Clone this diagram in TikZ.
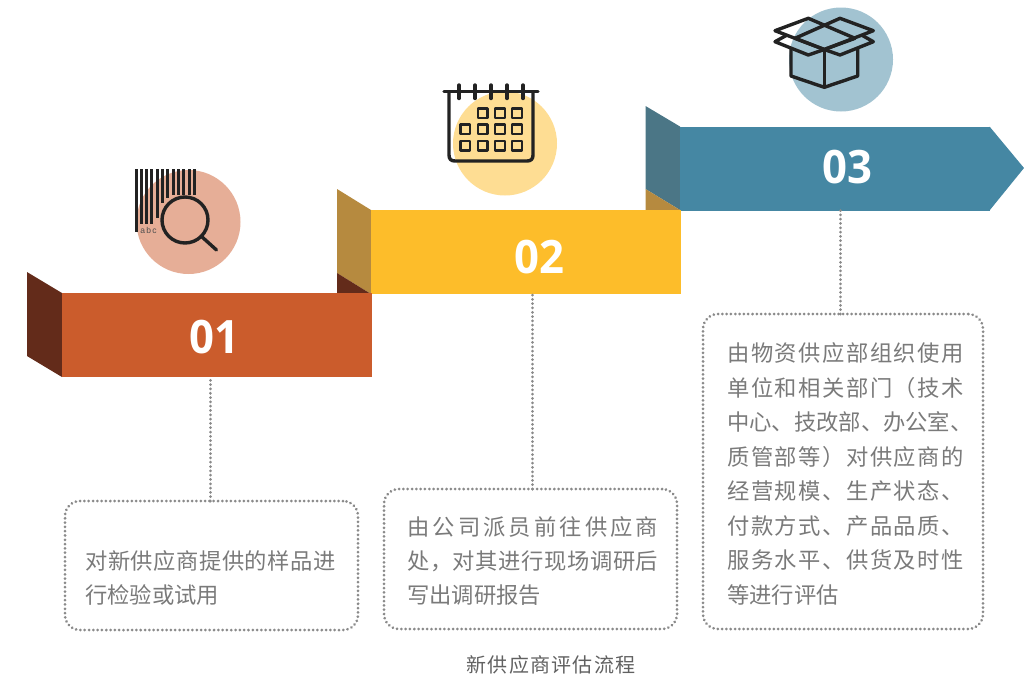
\documentclass[tikz,border=0pt]{standalone}
\usepackage{fontspec}
\newfontfamily\cjkA{Noto Sans CJK SC}
\newfontfamily\cjkD[LetterSpace=6]{Noto Sans CJK SC}
\newfontfamily\numfont[FakeStretch=0.95]{Open Sans}
\newfontfamily\tinyfont[LetterSpace=15]{Liberation Sans}
\definecolor{orangeB}{HTML}{CB5C2C}
\definecolor{orangeS}{HTML}{632B1A}
\definecolor{goldB}{HTML}{FDBD2A}
\definecolor{goldS}{HTML}{B68A3F}
\definecolor{blueB}{HTML}{4587A3}
\definecolor{blueS}{HTML}{4B7686}
\definecolor{circA}{HTML}{E6AE97}
\definecolor{circB}{HTML}{FEDD93}
\definecolor{circC}{HTML}{A2C3D1}
\definecolor{dotgray}{HTML}{8A8A8A}
\definecolor{txtgray}{HTML}{7A7A7A}
\definecolor{icon}{HTML}{222222}
\def\jloop#1#2{#1\ifx\relax#2\expandafter\jstop\else\hfil\expandafter\jloop\fi#2}
\def\jstop#1{}
\newcommand\jline[2]{\hbox to #1{\jloop#2\relax}}
\tikzset{
  band/.style={rectangle,draw=none,inner sep=0pt,outer sep=0pt,minimum width=#1,minimum height=84pt,anchor=north west},
  num/.style={text=white,font=\numfont\bfseries\fontsize{46}{46}\selectfont,inner sep=0pt,anchor=center},
  dotline/.style={draw=dotgray,line width=3pt,line cap=round,dash pattern=on 0.01pt off 4.3pt},
  tbox/.style={rectangle,rounded corners=15pt,dotline,inner sep=0pt,outer sep=0pt,anchor=north west},
  desc/.style={text=txtgray,align=left,inner sep=0pt,anchor=west},
  iconline/.style={draw=icon,line width=3.4pt,line join=round,line cap=round},
  iconthin/.style={draw=icon,line width=2.2pt,line join=round},
  bar/.style={draw=icon,line width=3pt},
  blob/.style={circle,draw=none,minimum size=104pt,inner sep=0pt,outer sep=0pt}
}
\begin{document}
\begin{tikzpicture}[x=1pt,y=-1pt]
\useasboundingbox (0,0) rectangle (1024,680);
% circles
\node[blob,fill=circA] (c1) at (188.5,222) {};
\node[blob,fill=circB] (c2) at (505,143.5) {};
\node[blob,fill=circC] (c3) at (841,59.5) {};
% band 3
\fill[blueS] (645.5,106) -- (680,126.5) -- (680,210) -- (645.5,189) -- cycle;
\fill[goldS] (645.5,189) -- (680,210) -- (645.5,210) -- cycle;
\node[band=310pt,fill=blueB] (band3) at (680,126.5) {};
\fill[blueB] (989.5,126.5) -- (1024,168) -- (989.5,210.5) -- cycle;
% band 2
\fill[goldS] (337,189) -- (371,210) -- (371,294) -- (337,273) -- cycle;
\fill[orangeS] (337,273) -- (371,294) -- (337,294) -- cycle;
\node[band=310pt,fill=goldB] (band2) at (371,210) {};
% band 1
\fill[orangeS] (27,272) -- (62,293) -- (62,377) -- (27,356) -- cycle;
\node[band=310pt,fill=orangeB] (band1) at (62,293) {};
% numbers
\node[num] (n1) at (214,337) {01};
\node[num] (n2) at (539.5,257) {02};
\node[num] (n3) at (847,167) {03};
% boxes
\node[tbox,minimum width=293pt,minimum height=129pt] (box1) at (65,501) {};
\node[tbox,minimum width=293pt,minimum height=140pt] (box2) at (384,489) {};
\node[tbox,minimum width=280pt,minimum height=315pt] (box3) at (703,314) {};
% connectors
\draw[dotline] ([xshift=-1.5pt]box1.north) -- ([xshift=-1.5pt]box1.north |- band1.south);
\draw[dotline] ([xshift=1.5pt]box2.north) -- ([xshift=1.5pt]box2.north |- band2.south);
\draw[dotline] ([xshift=-3pt]box3.north) -- ([xshift=-3pt]box3.north |- band3.south);
% texts
\node[desc,font=\cjkA\fontsize{22.3}{34}\selectfont] (t1) at (85,578) {\jline{250.5pt}{对新供应商提供的样品进}\\行检验或试用};
\node[desc,font=\cjkA\fontsize{22.3}{34}\selectfont] (t2) at (407,561) {\jline{251pt}{由公司派员前往供应商}\\\jline{251pt}{处，对其进行现场调研后}\\写出调研报告};
\node[desc,font=\cjkA\fontsize{22.3}{34.55}\selectfont] (t3) at (727,474) {\jline{236.5pt}{由物资供应部组织使用}\\\jline{236.5pt}{单位和相关部门（技术}\\中心、技改部、办公室、\\\jline{236.5pt}{质管部等）对供应商的}\\\jline{236.5pt}{经营规模、生产状态、}\\\jline{236.5pt}{付款方式、产品品质、}\\\jline{236.5pt}{服务水平、供货及时性}\\等进行评估};
\node[text=black!62,inner sep=0pt,font=\cjkD\fontsize{20}{24}\selectfont] (cap) at (551,665) {新供应商评估流程};
% icon 1: barcode and magnifier
\foreach \k/\e in {0/232,1/224,2/224,3/224,4/218,5/203,6/198,7/195,8/195,9/195,10/195,11/195}
  \draw[bar] ({136+5.33*\k},169) -- ({136+5.33*\k},\e);
\node[text=icon!80,inner sep=0pt,font=\tinyfont\fontsize{8.5}{9}\selectfont] (abc) at (148.5,230) {abc};
\draw[iconline] (185,220) circle (23);
\draw[iconline] (201,236) -- (216.5,250);
% icon 2: calendar
\draw[iconline] (449,92) -- (449,155) .. controls (449,159) and (451,161) .. (455,161) -- (527,161) .. controls (531,161) and (533,159) .. (533,155) -- (533,92);
\draw[iconline] (444,91.7) -- (538,91.7);
\foreach \x in {459,475,491,507,523}
  \draw[iconline] (\x,85) -- (\x,98.5);
\foreach \x/\y in {482.7/113.3,500/113.3,517/113.3,465.3/129.3,482.7/129.3,500/129.3,517/129.3,465.3/145.7,482.7/145.7,500/145.7,517/145.7}
  \draw[iconthin] (\x-4.8,\y-4.8) rectangle (\x+4.8,\y+4.8);
% icon 3: box
\draw[iconline] (791,49.3) -- (791,76) -- (824.3,87.3) -- (857.7,76) -- (857.7,49.3);
\draw[iconline] (824.3,49.5) -- (824.3,87.3);
\draw[iconline] (775,30.7) -- (808.3,18.3) -- (855,38.3) -- (824.3,49.5) -- cycle;
\draw[iconline] (873.3,30.7) -- (840,18.3) -- (795,38.3) -- (824.3,49.5) -- cycle;
\draw[iconline] (786.7,35.2) -- (775,41.7) -- (808.3,55) -- (824.3,49.5);
\draw[iconline] (861.9,35.2) -- (873.3,41.7) -- (840,55) -- (824.3,49.5);
\end{tikzpicture}
\end{document}
